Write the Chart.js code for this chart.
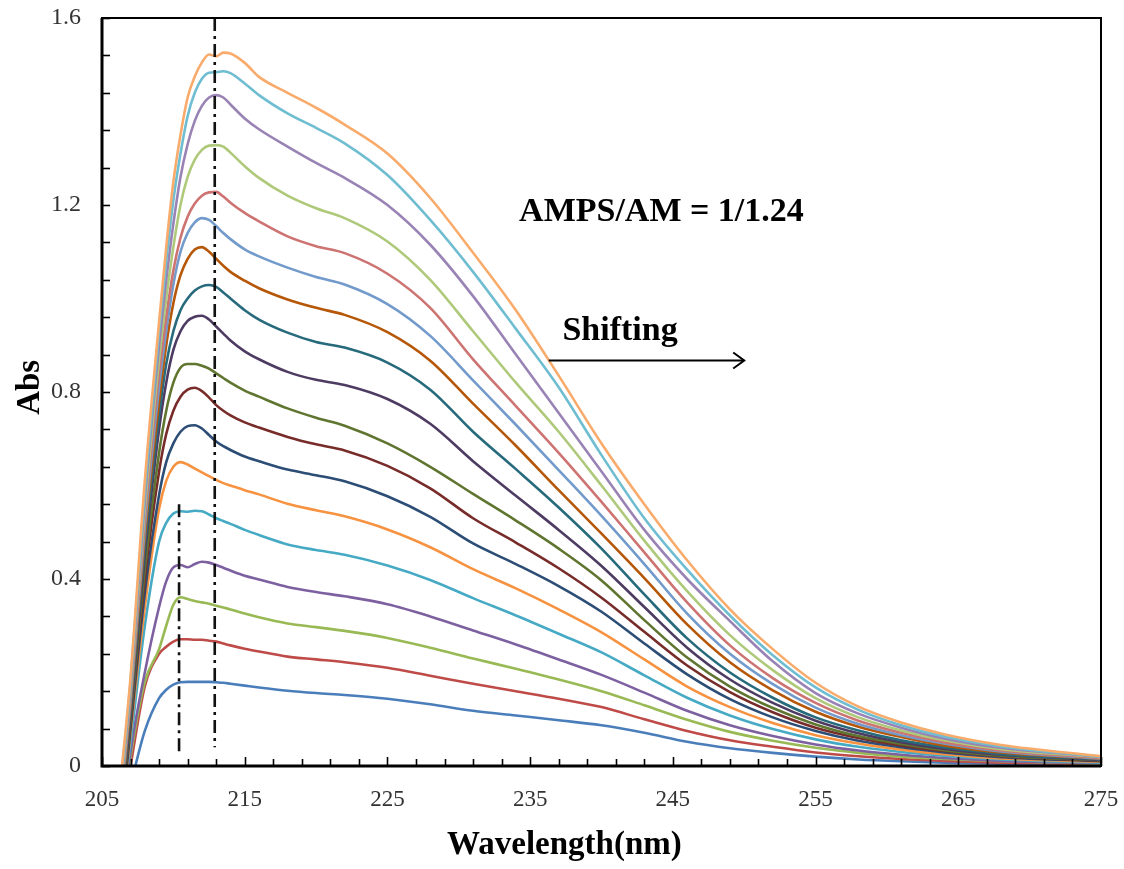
<!DOCTYPE html>
<html>
<head>
<meta charset="utf-8">
<script src="https://cdn.jsdelivr.net/npm/chart.js@4.4.1/dist/chart.umd.min.js"></script>
<style>
html,body{margin:0;padding:0;background:#fff;}
canvas{display:block;}
</style>
</head>
<body>
<canvas id="c" width="1124" height="869"></canvas>
<script>
// ---------- data ----------
const wavelength = [206, 207, 208, 209, 209.5, 210, 210.5, 211, 211.5, 212, 212.5, 213, 213.5, 214, 215, 216, 218, 220, 222, 225, 228, 231, 234, 237, 240, 243, 246, 249, 252, 255, 258, 261, 264, 268, 275];

const abs01 = [-0.15, -0.04, 0.075, 0.145, 0.163, 0.174, 0.179, 0.180, 0.180, 0.180, 0.180, 0.179, 0.178, 0.176, 0.172, 0.168, 0.161, 0.156, 0.152, 0.144, 0.132, 0.118, 0.108, 0.098, 0.087, 0.071, 0.052, 0.038, 0.028, 0.020, 0.014, 0.010, 0.007, 0.005, 0.003];
const abs02 = [-0.18, 0.0, 0.17, 0.24, 0.255, 0.266, 0.271, 0.271, 0.270, 0.270, 0.268, 0.266, 0.262, 0.258, 0.251, 0.245, 0.234, 0.228, 0.222, 0.210, 0.193, 0.176, 0.160, 0.144, 0.126, 0.100, 0.075, 0.055, 0.041, 0.029, 0.021, 0.015, 0.011, 0.007, 0.004];
const abs03 = [-0.2, 0.02, 0.18, 0.25, 0.30, 0.345, 0.361, 0.357, 0.353, 0.350, 0.347, 0.343, 0.339, 0.335, 0.326, 0.318, 0.305, 0.297, 0.289, 0.274, 0.253, 0.230, 0.208, 0.185, 0.160, 0.130, 0.099, 0.073, 0.054, 0.039, 0.028, 0.020, 0.015, 0.010, 0.005];
const abs04 = [-0.22, 0.03, 0.20, 0.34, 0.395, 0.425, 0.430, 0.425, 0.432, 0.437, 0.435, 0.430, 0.424, 0.418, 0.407, 0.399, 0.383, 0.372, 0.363, 0.346, 0.320, 0.290, 0.260, 0.228, 0.195, 0.157, 0.118, 0.087, 0.064, 0.046, 0.033, 0.024, 0.017, 0.011, 0.006];
const abs05 = [-0.2, 0.05, 0.30, 0.48, 0.52, 0.54, 0.545, 0.544, 0.546, 0.545, 0.538, 0.530, 0.524, 0.518, 0.505, 0.494, 0.474, 0.462, 0.452, 0.429, 0.398, 0.359, 0.322, 0.283, 0.243, 0.194, 0.146, 0.108, 0.079, 0.057, 0.041, 0.030, 0.022, 0.014, 0.007];
const abs06 = [-0.22, 0.07, 0.34, 0.55, 0.61, 0.64, 0.650, 0.645, 0.636, 0.628, 0.620, 0.612, 0.605, 0.600, 0.590, 0.581, 0.561, 0.547, 0.534, 0.506, 0.468, 0.421, 0.380, 0.335, 0.286, 0.228, 0.170, 0.126, 0.092, 0.066, 0.048, 0.035, 0.025, 0.016, 0.009];
const abs07 = [-0.22, 0.08, 0.37, 0.58, 0.65, 0.69, 0.715, 0.727, 0.729, 0.722, 0.708, 0.694, 0.684, 0.676, 0.662, 0.652, 0.634, 0.622, 0.609, 0.577, 0.533, 0.476, 0.432, 0.385, 0.330, 0.262, 0.196, 0.143, 0.104, 0.075, 0.054, 0.040, 0.029, 0.019, 0.010];
const abs08 = [-0.21, 0.09, 0.40, 0.63, 0.71, 0.76, 0.79, 0.805, 0.809, 0.802, 0.788, 0.772, 0.760, 0.750, 0.735, 0.724, 0.704, 0.688, 0.675, 0.642, 0.594, 0.530, 0.478, 0.423, 0.360, 0.287, 0.215, 0.158, 0.115, 0.082, 0.060, 0.044, 0.032, 0.021, 0.011];
const abs09 = [-0.2, 0.10, 0.42, 0.67, 0.76, 0.82, 0.852, 0.860, 0.860, 0.856, 0.850, 0.840, 0.830, 0.820, 0.803, 0.790, 0.765, 0.745, 0.728, 0.690, 0.640, 0.582, 0.525, 0.465, 0.397, 0.312, 0.232, 0.170, 0.124, 0.089, 0.064, 0.047, 0.034, 0.022, 0.012];
const abs10 = [-0.2, 0.11, 0.45, 0.72, 0.82, 0.89, 0.93, 0.952, 0.961, 0.963, 0.955, 0.940, 0.925, 0.910, 0.887, 0.870, 0.843, 0.826, 0.815, 0.785, 0.732, 0.652, 0.578, 0.505, 0.428, 0.340, 0.253, 0.185, 0.135, 0.097, 0.070, 0.051, 0.037, 0.024, 0.013];
const abs11 = [-0.19, 0.12, 0.47, 0.75, 0.86, 0.93, 0.975, 1.000, 1.017, 1.026, 1.029, 1.025, 1.013, 1.000, 0.975, 0.955, 0.927, 0.907, 0.895, 0.863, 0.805, 0.715, 0.635, 0.553, 0.465, 0.367, 0.273, 0.200, 0.146, 0.104, 0.076, 0.055, 0.040, 0.026, 0.014];
const abs12 = [-0.18, 0.13, 0.49, 0.78, 0.90, 0.99, 1.05, 1.085, 1.105, 1.110, 1.100, 1.085, 1.070, 1.057, 1.038, 1.022, 0.998, 0.980, 0.965, 0.928, 0.867, 0.775, 0.685, 0.590, 0.497, 0.402, 0.303, 0.222, 0.162, 0.116, 0.084, 0.062, 0.044, 0.029, 0.015];
const abs13 = [-0.17, 0.14, 0.51, 0.81, 0.93, 1.03, 1.10, 1.140, 1.163, 1.172, 1.168, 1.155, 1.140, 1.127, 1.105, 1.090, 1.066, 1.046, 1.030, 0.988, 0.920, 0.825, 0.730, 0.633, 0.535, 0.432, 0.326, 0.240, 0.175, 0.125, 0.090, 0.066, 0.048, 0.031, 0.016];
const abs14 = [-0.16, 0.15, 0.53, 0.84, 0.96, 1.06, 1.13, 1.175, 1.203, 1.220, 1.227, 1.228, 1.218, 1.205, 1.183, 1.165, 1.133, 1.112, 1.097, 1.053, 0.980, 0.870, 0.770, 0.670, 0.565, 0.457, 0.350, 0.258, 0.188, 0.135, 0.097, 0.071, 0.051, 0.033, 0.017];
const abs15 = [-0.15, 0.16, 0.55, 0.87, 1.00, 1.11, 1.20, 1.260, 1.297, 1.318, 1.327, 1.328, 1.325, 1.312, 1.283, 1.258, 1.220, 1.193, 1.172, 1.122, 1.040, 0.930, 0.820, 0.715, 0.600, 0.482, 0.374, 0.280, 0.205, 0.145, 0.104, 0.076, 0.055, 0.036, 0.019];
const abs16 = [-0.14, 0.17, 0.57, 0.90, 1.04, 1.16, 1.26, 1.33, 1.38, 1.412, 1.430, 1.435, 1.430, 1.415, 1.385, 1.362, 1.325, 1.290, 1.258, 1.200, 1.115, 1.005, 0.880, 0.755, 0.630, 0.505, 0.400, 0.310, 0.224, 0.156, 0.112, 0.082, 0.059, 0.039, 0.020];
const abs17 = [-0.13, 0.18, 0.59, 0.93, 1.08, 1.21, 1.31, 1.39, 1.44, 1.470, 1.483, 1.484, 1.486, 1.482, 1.460, 1.435, 1.396, 1.365, 1.332, 1.264, 1.168, 1.057, 0.935, 0.810, 0.665, 0.530, 0.420, 0.322, 0.237, 0.168, 0.120, 0.087, 0.063, 0.042, 0.020];
const abs18 = [-0.12, 0.19, 0.61, 0.95, 1.11, 1.25, 1.35, 1.43, 1.475, 1.505, 1.522, 1.518, 1.526, 1.524, 1.504, 1.474, 1.440, 1.408, 1.372, 1.310, 1.215, 1.098, 0.975, 0.835, 0.690, 0.560, 0.440, 0.335, 0.250, 0.178, 0.127, 0.093, 0.068, 0.045, 0.021];

const seriesColors = ['#4A7EBB', '#BE4B48', '#98B954', '#7D60A0', '#46AAC5', '#F69240',
                      '#2C4D75', '#772C2A', '#5F7530', '#4D3B62', '#276A7C', '#B65708',
                      '#729ACA', '#CD7371', '#AFC97A', '#9983B5', '#6FBDD1', '#F9AB6B'];

// dash-dot reference lines (wavelength, Abs)
const refLineAX = [212.9, 212.9];
const refLineAY = [1.6, 0.04];
const refLineBX = [210.4, 210.4];
const refLineBY = [0.56, 0.03];

const xTickLabels = ['205', '215', '225', '235', '245', '255', '265', '275'];
const yTickLabels = ['0', '0.4', '0.8', '1.2', '1.6'];
const xTitle = 'Wavelength(nm)';
const yTitle = 'Abs';
const ratioLabel = 'AMPS/AM = 1/1.24';
const shiftLabel = 'Shifting';

// ---------- build ----------
const allSeries = [abs01, abs02, abs03, abs04, abs05, abs06, abs07, abs08, abs09,
                   abs10, abs11, abs12, abs13, abs14, abs15, abs16, abs17, abs18];

const datasets = allSeries.map((vals, i) => ({
  label: 'S' + (i + 1),
  data: wavelength.map((w, k) => ({x: w, y: vals[k]})),
  borderColor: seriesColors[i],
  borderWidth: 2.6,
  pointRadius: 0,
  fill: false,
  cubicInterpolationMode: 'monotone',
  order: 100 - i
}));

[[refLineAX, refLineAY], [refLineBX, refLineBY]].forEach(([xs, ys], i) => {
  datasets.push({
    label: 'ref' + i,
    data: xs.map((x, k) => ({x: x, y: ys[k]})),
    borderColor: '#111',
    borderWidth: 2.6,
    borderDash: [13, 5, 3, 5],
    pointRadius: 0,
    fill: false,
    order: 0
  });
});

const xMinorTicks = [];
for (let v = 205; v <= 275; v += 2) xMinorTicks.push(v);
const yMinorTicks = [];
for (let k = 0; k <= 20; k++) yMinorTicks.push(Math.round(k * 0.08 * 100) / 100);

const serif = '"Liberation Serif", "Times New Roman", serif';

const framePlugin = {
  id: 'frame',
  afterDraw(chart) {
    const {ctx, chartArea: a, scales: {x, y}} = chart;
    ctx.save();
    ctx.strokeStyle = '#000';
    ctx.lineWidth = 1.6;
    x.ticks.forEach(t => {
      const px = Math.round(x.getPixelForValue(t.value)) + 0.5;
      const major = xTickLabels.includes(String(t.value));
      ctx.beginPath();
      ctx.moveTo(px, a.bottom);
      ctx.lineTo(px, a.bottom - (major ? 9 : 7));
      ctx.stroke();
    });
    y.ticks.forEach(t => {
      const py = Math.round(y.getPixelForValue(t.value)) + 0.5;
      ctx.beginPath();
      ctx.moveTo(a.left, py);
      ctx.lineTo(a.left + 8, py);
      ctx.stroke();
    });
    // frame
    ctx.lineWidth = 2;
    ctx.strokeRect(a.left, a.top, a.right - a.left, a.bottom - a.top);
    ctx.lineWidth = 3;
    ctx.beginPath();
    ctx.moveTo(a.left, a.top);
    ctx.lineTo(a.left, a.bottom);
    ctx.lineTo(a.right, a.bottom);
    ctx.stroke();

    // axis titles
    ctx.fillStyle = '#000';
    ctx.textAlign = 'center';
    ctx.textBaseline = 'middle';
    ctx.font = 'bold 33px ' + serif;
    ctx.fillText(xTitle, x.getPixelForValue(237.4), 845);
    ctx.save();
    ctx.translate(30, y.getPixelForValue(0.81));
    ctx.rotate(-Math.PI / 2);
    ctx.fillText(yTitle, 0, 0);
    ctx.restore();

    // annotations
    ctx.font = 'bold 34px ' + serif;
    ctx.fillText(ratioLabel, x.getPixelForValue(244.2), y.getPixelForValue(1.185));
    ctx.fillText(shiftLabel, x.getPixelForValue(241.3), y.getPixelForValue(0.93));
    // arrow
    const ax0 = x.getPixelForValue(236.3), ax1 = x.getPixelForValue(250.0);
    const ay = Math.round(y.getPixelForValue(0.868)) + 0.5;
    ctx.lineWidth = 2;
    ctx.beginPath();
    ctx.moveTo(ax0, ay);
    ctx.lineTo(ax1, ay);
    ctx.stroke();
    ctx.beginPath();
    ctx.moveTo(ax1 - 11, ay - 8);
    ctx.lineTo(ax1, ay);
    ctx.lineTo(ax1 - 11, ay + 8);
    ctx.stroke();
    ctx.restore();
  }
};

new Chart(document.getElementById('c'), {
  type: 'line',
  data: {datasets},
  options: {
    responsive: false,
    animation: false,
    devicePixelRatio: 1,
    layout: {padding: {left: 0, right: 23, top: 18, bottom: 0}},
    plugins: {legend: {display: false}, tooltip: {enabled: false}},
    scales: {
      x: {
        type: 'linear',
        min: 205, max: 275,
        grid: {display: false, drawTicks: false},
        border: {display: false},
        afterBuildTicks: s => { s.ticks = xMinorTicks.map(v => ({value: v})); },
        afterFit: s => { s.height = 103; s.paddingLeft = 0; s.paddingRight = 0; },
        ticks: {
          autoSkip: false, maxRotation: 0, padding: 20,
          color: '#333',
          font: {family: serif, size: 23},
          callback: v => xTickLabels.includes(String(v)) ? String(v) : ''
        },
        title: {display: false}
      },
      y: {
        type: 'linear',
        min: 0, max: 1.6,
        grid: {display: false, drawTicks: false},
        border: {display: false},
        afterBuildTicks: s => { s.ticks = yMinorTicks.map(v => ({value: v})); },
        afterFit: s => { s.width = 102; s.paddingTop = 0; s.paddingBottom = 0; },
        ticks: {
          autoSkip: false, padding: 21,
          color: '#333',
          font: {family: serif, size: 24},
          callback: v => {
            const lbl = v === 0 ? '0' : (Math.round(v * 10) / 10).toFixed(1);
            return (yTickLabels.includes(lbl) && Math.abs(v * 10 - Math.round(v * 10)) < 1e-6) ? lbl : '';
          }
        },
        title: {display: false}
      }
    }
  },
  plugins: [framePlugin]
});
</script>
</body>
</html>
